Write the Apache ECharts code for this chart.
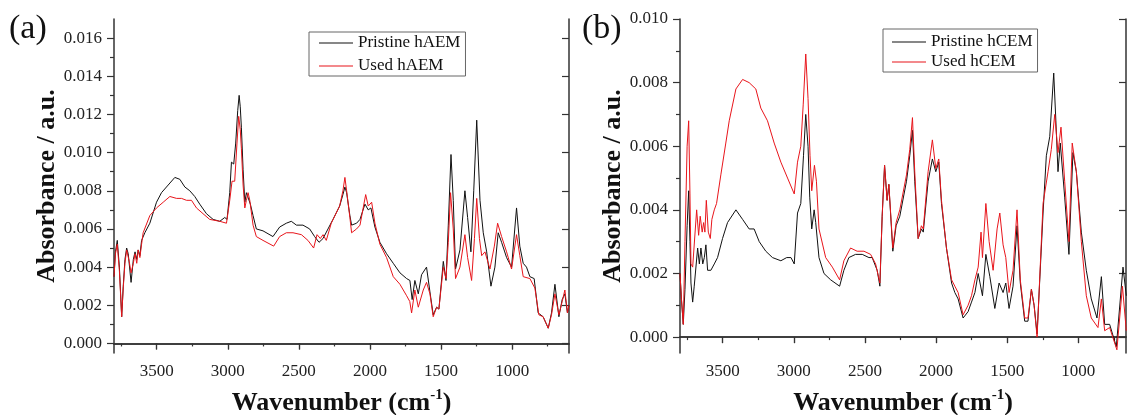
<!DOCTYPE html>
<html>
<head>
<meta charset="utf-8">
<script src="https://cdn.jsdelivr.net/npm/echarts@6/dist/echarts.min.js"></script>
<style>
  html, body { margin: 0; padding: 0; background: #fff; }
  #chart { width: 1127px; height: 415px; }
</style>
</head>
<body>
<div id="chart"></div>
<script>
// (a) hAEM
var pristineAemWn = [3800,3790,3777,3762,3746,3735,3723,3711,3700,3693,3680,3664,3652,3640,3630,3618,3606,3583,3548,3501,3466,3419,3372,3337,3302,3267,3232,3197,3150,3103,3056,3021,3005,2986,2974,2958,2944,2930,2920,2912,2904,2892,2880,2869,2855,2841,2822,2799,2752,2682,2635,2588,2553,2517,2471,2424,2389,2358,2330,2295,2260,2213,2190,2176,2164,2141,2129,2094,2070,2035,2023,2012,1993,1965,1930,1883,1836,1789,1742,1719,1703,1684,1660,1637,1602,1578,1555,1531,1515,1484,1465,1449,1430,1414,1398,1367,1332,1313,1290,1270,1249,1226,1203,1179,1149,1121,1098,1074,1039,1004,969,946,922,899,875,845,817,782,746,723,699,671,648,629,611,600];
var pristineAemAbs = [0.0035,0.0048,0.0054,0.0040,0.0014,0.0030,0.0044,0.0050,0.0047,0.0046,0.0032,0.0044,0.0048,0.0044,0.0049,0.0046,0.0054,0.0058,0.0063,0.0074,0.0079,0.0083,0.0087,0.0086,0.0082,0.0080,0.0077,0.0073,0.0068,0.0065,0.0064,0.0066,0.0065,0.0079,0.0095,0.0094,0.0105,0.0122,0.0130,0.0124,0.0113,0.0091,0.0074,0.0079,0.0080,0.0073,0.0067,0.0060,0.0059,0.0056,0.0061,0.0063,0.0064,0.0062,0.0062,0.0060,0.0056,0.0053,0.0055,0.0060,0.0065,0.0072,0.0078,0.0082,0.0079,0.0067,0.0062,0.0063,0.0065,0.0073,0.0074,0.0070,0.0071,0.0061,0.0053,0.0047,0.0042,0.0037,0.0034,0.0033,0.0023,0.0033,0.0026,0.0036,0.0040,0.0027,0.0015,0.0019,0.0018,0.0043,0.0033,0.0062,0.0099,0.0075,0.0039,0.0049,0.0080,0.0066,0.0048,0.0080,0.0117,0.0075,0.0058,0.0048,0.0030,0.0040,0.0058,0.0053,0.0045,0.0040,0.0071,0.0051,0.0042,0.0040,0.0035,0.0034,0.0016,0.0014,0.0008,0.0016,0.0031,0.0014,0.0023,0.0026,0.0016,0.0020];
var usedAemWn = [3800,3790,3777,3762,3746,3735,3723,3711,3693,3680,3664,3652,3640,3630,3618,3606,3595,3548,3501,3454,3407,3360,3325,3290,3255,3220,3174,3127,3056,3009,2986,2970,2951,2935,2923,2912,2904,2892,2880,2869,2857,2845,2822,2799,2752,2677,2635,2588,2541,2482,2436,2396,2372,2349,2330,2307,2272,2213,2190,2176,2164,2141,2129,2094,2070,2030,2012,1988,1965,1930,1883,1836,1789,1742,1720,1707,1684,1660,1625,1602,1578,1555,1531,1515,1484,1465,1449,1433,1414,1398,1367,1332,1313,1285,1265,1249,1230,1214,1191,1156,1125,1102,1074,1039,1004,969,946,922,875,840,812,782,746,723,699,671,648,629,611,600];
var usedAemAbs = [0.0035,0.0047,0.0052,0.0038,0.0014,0.0029,0.0042,0.0049,0.0043,0.0037,0.0042,0.0047,0.0042,0.0049,0.0045,0.0052,0.0058,0.0067,0.0071,0.0074,0.0077,0.0076,0.0076,0.0075,0.0075,0.0071,0.0068,0.0065,0.0064,0.0063,0.0075,0.0085,0.0085,0.0105,0.0119,0.0112,0.0102,0.0083,0.0071,0.0075,0.0079,0.0075,0.0062,0.0056,0.0054,0.0051,0.0056,0.0058,0.0058,0.0057,0.0054,0.0050,0.0057,0.0055,0.0057,0.0054,0.0063,0.0072,0.0080,0.0087,0.0080,0.0066,0.0058,0.0060,0.0062,0.0078,0.0072,0.0074,0.0063,0.0052,0.0045,0.0035,0.0031,0.0025,0.0022,0.0016,0.0028,0.0019,0.0028,0.0032,0.0026,0.0014,0.0019,0.0018,0.0040,0.0034,0.0053,0.0079,0.0060,0.0034,0.0040,0.0057,0.0045,0.0033,0.0055,0.0076,0.0055,0.0046,0.0048,0.0039,0.0051,0.0063,0.0056,0.0048,0.0039,0.0057,0.0046,0.0035,0.0034,0.0029,0.0015,0.0014,0.0008,0.0015,0.0026,0.0015,0.0022,0.0028,0.0016,0.0020];

// (b) hCEM
var pristineCemWn = [3800,3790,3777,3765,3750,3739,3730,3723,3711,3700,3676,3664,3653,3640,3629,3618,3606,3583,3559,3536,3501,3466,3407,3360,3314,3279,3243,3197,3150,3091,3050,3020,2997,2974,2951,2932,2916,2900,2888,2874,2857,2846,2823,2788,2741,2678,2648,2613,2566,2519,2472,2449,2414,2395,2379,2362,2344,2332,2304,2281,2255,2208,2185,2166,2150,2126,2103,2090,2056,2026,2002,1981,1962,1927,1891,1868,1845,1810,1775,1751,1727,1704,1674,1650,1622,1587,1557,1529,1510,1487,1459,1431,1408,1377,1354,1330,1311,1290,1248,1225,1201,1173,1158,1143,1127,1096,1066,1038,1014,979,944,909,869,838,815,780,733,686,663];
var pristineCemAbs = [0.0020,0.0012,0.0004,0.0015,0.0035,0.0046,0.0030,0.0017,0.0011,0.0016,0.0028,0.0023,0.0028,0.0023,0.0025,0.0029,0.0021,0.0021,0.0023,0.0025,0.0031,0.0036,0.0040,0.0037,0.0034,0.0034,0.0030,0.0027,0.0025,0.0024,0.0025,0.0025,0.0023,0.0039,0.0042,0.0057,0.0070,0.0060,0.0044,0.0034,0.0040,0.0036,0.0025,0.0020,0.0018,0.0016,0.0021,0.0025,0.0026,0.0026,0.0025,0.0025,0.0021,0.0016,0.0038,0.0054,0.0043,0.0048,0.0027,0.0035,0.0038,0.0049,0.0057,0.0065,0.0049,0.0031,0.0034,0.0033,0.0049,0.0056,0.0052,0.0055,0.0042,0.0028,0.0017,0.0014,0.0012,0.0006,0.0008,0.0011,0.0014,0.0020,0.0013,0.0026,0.0019,0.0009,0.0017,0.0014,0.0017,0.0009,0.0016,0.0035,0.0017,0.0005,0.0005,0.0015,0.0010,0.0001,0.0039,0.0057,0.0063,0.0083,0.0068,0.0052,0.0061,0.0044,0.0026,0.0058,0.0052,0.0033,0.0021,0.0012,0.0006,0.0019,0.0004,0.0004,-0.0003,0.0022,0.0013];
var usedCemWn = [3800,3790,3777,3765,3750,3739,3730,3723,3711,3700,3683,3669,3658,3644,3634,3625,3615,3601,3587,3576,3559,3543,3513,3478,3454,3407,3360,3314,3267,3232,3185,3138,3091,3044,2997,2974,2951,2934,2916,2900,2886,2874,2855,2841,2823,2776,2729,2678,2648,2601,2555,2507,2460,2425,2395,2379,2362,2344,2332,2304,2281,2255,2208,2185,2166,2150,2126,2103,2090,2056,2026,2002,1981,1962,1927,1891,1868,1845,1810,1775,1751,1727,1704,1684,1674,1650,1627,1599,1571,1552,1529,1510,1487,1459,1431,1408,1377,1354,1330,1311,1290,1248,1213,1190,1166,1143,1122,1096,1066,1043,1014,979,944,909,862,838,815,780,729,690,663];
var usedCemAbs = [0.0020,0.0012,0.0004,0.0030,0.0060,0.0068,0.0045,0.0023,0.0022,0.0022,0.0040,0.0032,0.0038,0.0033,0.0036,0.0033,0.0043,0.0033,0.0031,0.0037,0.0040,0.0042,0.0051,0.0061,0.0068,0.0078,0.0081,0.0080,0.0078,0.0072,0.0068,0.0061,0.0055,0.0050,0.0045,0.0055,0.0060,0.0073,0.0089,0.0075,0.0057,0.0046,0.0054,0.0049,0.0034,0.0025,0.0022,0.0018,0.0024,0.0028,0.0027,0.0027,0.0026,0.0023,0.0017,0.0038,0.0054,0.0043,0.0048,0.0028,0.0036,0.0040,0.0051,0.0059,0.0069,0.0052,0.0031,0.0035,0.0034,0.0052,0.0062,0.0053,0.0056,0.0043,0.0028,0.0018,0.0016,0.0014,0.0007,0.0010,0.0013,0.0018,0.0022,0.0033,0.0025,0.0042,0.0030,0.0021,0.0034,0.0039,0.0029,0.0025,0.0014,0.0021,0.0040,0.0018,0.0006,0.0006,0.0015,0.0010,0.0000,0.0042,0.0052,0.0059,0.0070,0.0058,0.0066,0.0049,0.0030,0.0061,0.0052,0.0030,0.0013,0.0006,0.0003,0.0012,0.0002,0.0003,-0.0004,0.0016,0.0002];

var xMajor = [1000, 1500, 2000, 2500, 3000, 3500];
var xMinor = [750, 1250, 1750, 2250, 2750, 3250, 3750];
var yMajorA = [0, 0.002, 0.004, 0.006, 0.008, 0.010, 0.012, 0.014, 0.016];
var yMinorA = [0.001, 0.003, 0.005, 0.007, 0.009, 0.011, 0.013, 0.015];
var yMajorB = [0, 0.002, 0.004, 0.006, 0.008, 0.010];
var yMinorB = [0.001, 0.003, 0.005, 0.007, 0.009];

function zip(xs, ys) {
  return xs.map(function (x, i) { return [x, ys[i]]; });
}

var serif = 'Liberation Serif';
var frame = '#333';

function xAxes(grid, min) {
  var base = { type: 'value', gridIndex: grid, min: min, max: 3800, inverse: true, splitLine: { show: false } };
  return [
    Object.assign({}, base, {
      position: 'bottom',
      axisLine: { lineStyle: { color: frame, width: 1.5 } },
      axisTick: { customValues: xMajor, length: 6, lineStyle: { color: frame, width: 1.2 } },
      axisLabel: {
        customValues: xMajor, margin: 10, fontFamily: serif, fontSize: 17, color: '#222',
        formatter: function (v) { return String(v); }
      },
      name: '{b|Wavenumber (cm}{s|-1}{b|)}',
      nameLocation: 'middle',
      nameGap: 35,
      nameTextStyle: {
        rich: {
          b: { fontFamily: serif, fontSize: 26, fontWeight: 'bold', color: '#111', lineHeight: 30 },
          s: { fontFamily: serif, fontSize: 15, fontWeight: 'bold', color: '#111', verticalAlign: 'top', lineHeight: 14 }
        }
      }
    }),
    Object.assign({}, base, {
      position: 'bottom',
      axisLine: { show: false },
      axisTick: { customValues: xMinor, length: 3, lineStyle: { color: frame, width: 1.2 } },
      axisLabel: { show: false }
    }),
    Object.assign({}, base, {
      position: 'top',
      axisLine: { lineStyle: { color: frame, width: 1.5 } },
      axisTick: { customValues: xMajor, inside: true, length: 6, lineStyle: { color: frame, width: 1.2 } },
      axisLabel: { show: false }
    })
  ];
}

function yAxes(grid, max, major, minor) {
  var base = { type: 'value', gridIndex: grid, min: -0.0005, max: max, splitLine: { show: false } };
  return [
    Object.assign({}, base, {
      position: 'left',
      axisLine: { lineStyle: { color: frame, width: 1.5 } },
      axisTick: { customValues: major, length: 7, lineStyle: { color: frame, width: 1.2 } },
      axisLabel: {
        customValues: major, margin: 12, fontFamily: serif, fontSize: 17, color: '#222',
        formatter: function (v) { return v.toFixed(3); }
      },
      name: 'Absorbance / a.u.',
      nameLocation: 'middle',
      nameGap: 54,
      nameTextStyle: { fontFamily: serif, fontSize: 26, fontWeight: 'bold', color: '#111' }
    }),
    Object.assign({}, base, {
      position: 'left',
      axisLine: { show: false },
      axisTick: { customValues: minor, length: 4, lineStyle: { color: frame, width: 1.2 } },
      axisLabel: { show: false }
    }),
    Object.assign({}, base, {
      position: 'right',
      axisLine: { lineStyle: { color: frame, width: 1.5 } },
      axisTick: { customValues: major, inside: true, length: 7, lineStyle: { color: frame, width: 1.2 } },
      axisLabel: { show: false }
    })
  ];
}

function line(name, data, color, xi, yi) {
  return {
    name: name, type: 'line', data: data, xAxisIndex: xi, yAxisIndex: yi,
    symbol: 'none', smooth: false, silent: true,
    lineStyle: { color: color, width: 1 }, itemStyle: { color: color }
  };
}

function legend(names, left, top, gap, padding) {
  return {
    data: names, orient: 'vertical', left: left, top: top,
    icon: 'rect', itemWidth: 34, itemHeight: 1.2, itemGap: gap, padding: padding,
    borderColor: '#666', borderWidth: 1, backgroundColor: '#fff',
    selectedMode: false,
    textStyle: { fontFamily: serif, fontSize: 17, color: '#111', lineHeight: 18 }
  };
}

var chart = echarts.init(document.getElementById('chart'), null, { renderer: 'canvas' });
chart.setOption({
  animation: false,
  backgroundColor: '#fff',
  grid: [
    { left: 114, top: 19, width: 455, height: 334, outerBoundsMode: 'none', containLabel: false },
    { left: 680, top: 19, width: 446, height: 334, outerBoundsMode: 'none', containLabel: false }
  ],
  xAxis: xAxes(0, 600).concat(xAxes(1, 665)),
  yAxis: yAxes(0, 0.017, yMajorA, yMinorA).concat(yAxes(1, 0.010, yMajorB, yMinorB)),
  legend: [
    legend(['Pristine hAEM', 'Used hAEM'], 309, 32, 5, [2, 5, 1, 10]),
    legend(['Pristine hCEM', 'Used hCEM'], 883, 29, 2, [4, 5, 1, 9])
  ],
  graphic: [
    { type: 'text', left: 9, top: 12, style: { text: '(a)', font: '34px "Liberation Serif"', fill: '#111' } },
    { type: 'text', left: 582, top: 12, style: { text: '(b)', font: '34px "Liberation Serif"', fill: '#111' } }
  ],
  series: [
    line('Pristine hAEM', zip(pristineAemWn, pristineAemAbs), '#111111', 0, 0),
    line('Used hAEM', zip(usedAemWn, usedAemAbs), '#e8151b', 0, 0),
    line('Pristine hCEM', zip(pristineCemWn, pristineCemAbs), '#111111', 3, 3),
    line('Used hCEM', zip(usedCemWn, usedCemAbs), '#e8151b', 3, 3)
  ]
});
</script>
</body>
</html>
